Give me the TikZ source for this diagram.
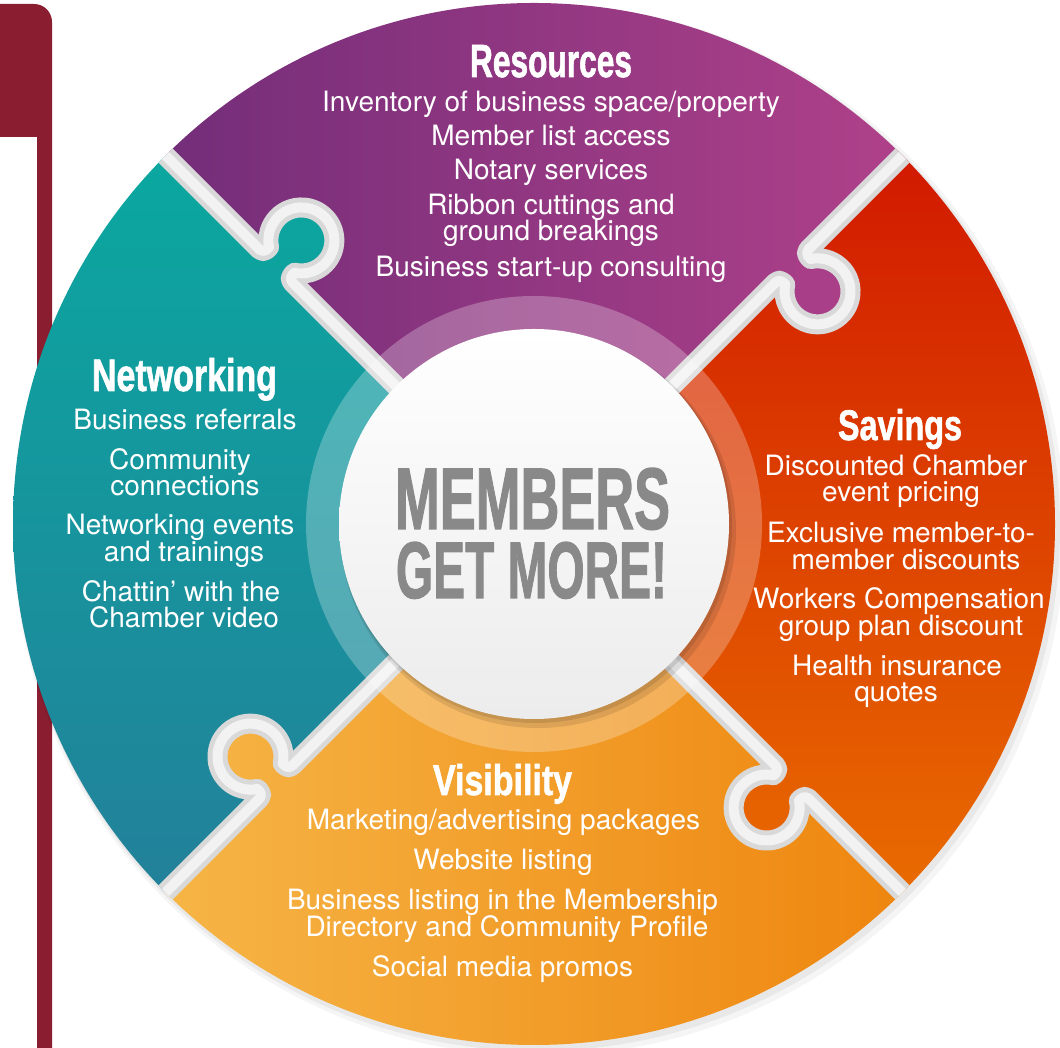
\documentclass[tikz,border=0pt]{standalone}
\usepackage{graphicx}
\usepackage{fontspec}
\setmainfont{TeX Gyre Heros}
\newfontfamily\headfont{Liberation Sans}[BoldFeatures={FakeBold=1.6}]
\usetikzlibrary{calc}

\definecolor{barred}{HTML}{8B1D31}
\definecolor{purA}{HTML}{732D79}
\definecolor{purB}{HTML}{B0418A}
\definecolor{tealA}{HTML}{0AA8A0}
\definecolor{tealB}{HTML}{23809A}
\definecolor{orgA}{HTML}{F6B647}
\definecolor{orgB}{HTML}{EE850E}
\definecolor{redA}{HTML}{D11800}
\definecolor{redB}{HTML}{E96C00}
\definecolor{gapgrey}{HTML}{D9D9D9}
\definecolor{gapwhite}{HTML}{F2F2F2}
\definecolor{memgrey}{HTML}{898989}
\definecolor{circgrey}{HTML}{ECECEC}

% boundary at 45 deg, traced outward (tab on clockwise side)
\def\boutA{-- (45:342pt) arc[start angle=135, end angle=45, radius=5pt]
  -- ($(45:347pt)+(-45:8.34pt)$) arc[start angle=168.06, end angle=461.94, radius=33pt]
  -- ($(45:383pt)+(-45:5pt)$) arc[start angle=225, end angle=135, radius=5pt]
  -- (45:600pt)}
% boundary at 135 deg, traced inward
\def\binB{-- (135:600pt) -- (135:388pt) arc[start angle=225, end angle=315, radius=5pt]
  -- ($(135:383pt)+(45:8.34pt)$) arc[start angle=191.94, end angle=-101.94, radius=33pt]
  -- ($(135:347pt)+(45:5pt)$) arc[start angle=135, end angle=225, radius=5pt]
  -- (0,0)}
\def\piecepath{(0,0) \boutA arc[start angle=45, end angle=135, radius=600pt] \binB -- cycle}

\tikzset{
  itm/.style={anchor=base, inner sep=0pt, text=white, font=\fontsize{28}{28}\selectfont},
  hd/.style={anchor=base, inner sep=0pt, text=white},
  gapouter/.style={line width=20pt, draw=gapgrey, line join=round},
  gapinner/.style={line width=10pt, draw=gapwhite, line join=round},
}

\begin{document}
\begin{tikzpicture}[x=1pt, y=1pt]
\useasboundingbox (0,0) rectangle (1060,1048);
\fill[white] (0,0) rectangle (1060,1048);

% left bar
\fill[barred] (0,911) -- (0,1044) -- (34,1044) arc[start angle=90, end angle=0, radius=18pt]
  -- (52,0) -- (37,0) -- (37,911) -- cycle;

\coordinate (C) at (534,524);

% outer soft shadow
\fill[black, opacity=0.04] (539,518) circle (526pt);
\fill[black, opacity=0.05] (537,520) circle (523pt);

\begin{scope}
\clip (C) circle (521pt);
% purple (top)
\begin{scope}[shift={(C)}, rotate=0]
  \clip \piecepath;
  \shade[left color=purA, right color=purB] (-380,-60) rectangle (380,530);
\end{scope}
% teal (left)
\begin{scope}[shift={(C)}, rotate=90]
  \clip \piecepath;
  \begin{scope}[rotate=-90]
  \shade[top color=tealA, bottom color=tealB] (-530,-380) rectangle (60,380);
  \end{scope}
\end{scope}
% orange (bottom)
\begin{scope}[shift={(C)}, rotate=180]
  \clip \piecepath;
  \begin{scope}[rotate=-180]
  \shade[left color=orgA, right color=orgB] (-380,-530) rectangle (380,60);
  \end{scope}
\end{scope}
% red (right)
\begin{scope}[shift={(C)}, rotate=270]
  \clip \piecepath;
  \begin{scope}[rotate=-270]
  \shade[top color=redA, bottom color=redB] (-60,-380) rectangle (530,380);
  \end{scope}
\end{scope}
% gaps
\foreach \r in {0,90,180,270}{
  \begin{scope}[shift={(C)}, rotate=\r]
    \draw[gapouter] (0,0) \boutA;
  \end{scope}
}
\foreach \r in {0,90,180,270}{
  \begin{scope}[shift={(C)}, rotate=\r]
    \draw[gapinner] (0,0) \boutA;
  \end{scope}
}
\end{scope}

% translucent ring
\fill[white, opacity=0.26] (C) circle (228pt);
% centre disc
\fill[black, opacity=0.10] (538,518) circle (198pt);
\fill[black, opacity=0.10] (536,521) circle (196pt);
\shade[top color=white, bottom color=circgrey] (C) circle (195pt);

\node[anchor=base, inner sep=0pt, text=memgrey] (m1) at (532.5,519) {\resizebox{275pt}{61pt}{\headfont\bfseries MEMBERS}};
\node[anchor=base, inner sep=0pt, text=memgrey] (m2) at (531.5,450) {\resizebox{271pt}{56pt}{\headfont\bfseries GET MORE!}};

% Resources
\node[hd] (hres) at (551,971) {\resizebox{162pt}{32pt}{\headfont\bfseries Resources}};
\node[itm] (r1) at (551,936) {Inventory of business space/property};
\node[itm] (r2) at (551,902) {Member list access};
\node[itm] (r3) at (551,868) {Notary services};
\node[itm] (r4) at (551,833) {Ribbon cuttings and};
\node[itm] (r5) at (551,807) {ground breakings};
\node[itm] (r6) at (551,771) {Business start-up consulting};

% Networking
\node[hd] (hnet) at (184.5,657) {\resizebox{185pt}{33pt}{\headfont\bfseries Networking}};
\node[itm] (n1) at (185,618) {Business referrals};
\node[itm] (n2) at (180,578) {Community};
\node[itm] (n3) at (185,552) {connections};
\node[itm] (n4) at (180,513) {Networking events};
\node[itm] (n5) at (184,486) {and trainings};
\node[itm] (n6) at (181,446) {Chattin’ with the};
\node[itm] (n7) at (184,420) {Chamber video};

% Savings
\node[hd] (hsav) at (900,608) {\resizebox{124pt}{31pt}{\headfont\bfseries Savings}};
\node[itm] (s1) at (896,572) {Discounted Chamber};
\node[itm] (s2) at (901,546) {event pricing};
\node[itm] (s3) at (901,505) {Exclusive member-to-};
\node[itm] (s4) at (906,478) {member discounts};
\node[itm] (s5) at (899,439) {Workers Compensation};
\node[itm] (s6) at (901,412) {group plan discount};
\node[itm] (s7) at (897,372) {Health insurance};
\node[itm] (s8) at (896,346) {quotes};

% Visibility
\node[hd] (hvis) at (502.5,253) {\resizebox{139pt}{31pt}{\headfont\bfseries Visibility}};
\node[itm] (v1) at (503.5,218) {Marketing/advertising packages};
\node[itm] (v2) at (503,178) {Website listing};
\node[itm] (v3) at (502.5,138) {Business listing in the Membership};
\node[itm] (v4) at (507,111) {Directory and Community Profile};
\node[itm] (v5) at (502.5,71) {Social media promos};
\end{tikzpicture}
\end{document}
